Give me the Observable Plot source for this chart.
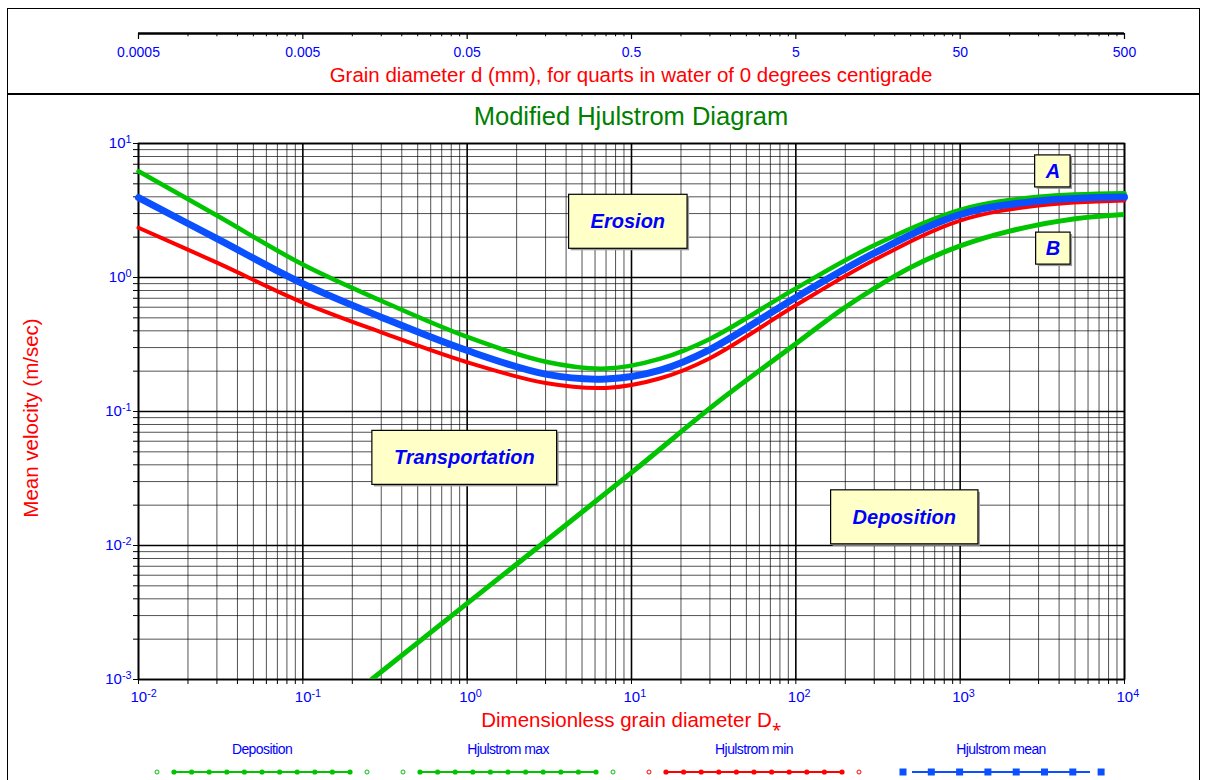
<!DOCTYPE html>
<html><head><meta charset="utf-8">
<script src="https://cdn.jsdelivr.net/npm/d3@7"></script>
<script src="https://cdn.jsdelivr.net/npm/@observablehq/plot@0.6"></script>
<style>
body{margin:0;background:#fff;font-family:"Liberation Sans",Arial,sans-serif;}
#wrap{position:relative;width:1206px;height:780px;overflow:hidden;background:#fff;}
#wrap > *{position:absolute;}
</style></head><body><div id="wrap"></div>
<script>
// ---------- data ----------
const hjD    = [0.01,0.03,0.1,0.3,1,3,7,15,30,100,300,1000,3000,10000];
const hjMax  = [6.2,2.9,1.25,0.67,0.36,0.235,0.209,0.248,0.348,0.83,1.74,3.2,4.0,4.26];
const hjMean = [3.94,1.95,0.90,0.506,0.285,0.19,0.175,0.204,0.29,0.71,1.52,2.95,3.72,3.98];
const hjMin  = [2.35,1.29,0.65,0.39,0.233,0.163,0.150,0.177,0.25,0.62,1.35,2.66,3.45,3.76];
const depD   = [0.262,1,10,33,100,200,500,1000,2000,5000,10000];
const depV   = [0.001,0.0037,0.035,0.116,0.32,0.60,1.19,1.72,2.22,2.74,2.95];

const seriesNames  = ["Deposition","Hjulstrom max","Hjulstrom min","Hjulstrom mean"];
const regionLabels = ["Erosion","Transportation","Deposition","A","B"];
const regionD      = [9.5,0.96,457,3665,3665];
const regionV      = [2.6,0.045,0.0162,6.18,1.64];

const xMajor = [0.01,0.1,1,10,100,1000,10000];
const xMajorLabels = ["10^-2","10^-1","10^0","10^1","10^2","10^3","10^4"];
const yMajor = [0.001,0.01,0.1,1,10];
const yMajorLabels = ["10^-3","10^-2","10^-1","10^0","10^1"];
const dMajor = [0.0005,0.005,0.05,0.5,5,50,500];
const dMajorLabels = ["0.0005","0.005","0.05","0.5","5","50","500"];
const minorK = [2,3,4,5,6,7,8,9];

const title = "Modified Hjulstrom Diagram";
const topTitle = "Grain diameter d (mm), for quarts in water of 0 degrees centigrade";
const xTitle = "Dimensionless grain diameter D";
const yTitle = "Mean velocity (m/sec)";

// ---------- styles ----------
const FONT = '"Liberation Sans", Arial, sans-serif';
const GREEN = "#00c400", RED = "#ff0000", BLUE = "#0a50ff", LBLUE = "#0000ff";
const minorsOf = arr => arr.slice(0,-1).flatMap(v => minorK.map(k => v*k));
const xMinor = minorsOf(xMajor), yMinor = minorsOf(yMajor), dMinor = minorsOf(dMajor);
const lab = (vals, labels) => d => { const i = vals.indexOf(d); return i >= 0 ? labels[i] : ""; };

const tbl = (xs, ys) => xs.map((d,i) => ({d, v: ys[i]}));
const regions = regionLabels.map((label,i) => ({label, d: regionD[i], v: regionV[i]}));
const CURVE = "catmull-rom";

const wrap = document.getElementById("wrap");

const main = Plot.plot({
  width: 1206, height: 780,
  marginTop: 143, marginRight: 82, marginBottom: 101, marginLeft: 138,
  style: {background: "transparent", fontFamily: FONT, overflow: "visible"},
  x: {type: "log", domain: [0.01, 10000]},
  y: {type: "log", domain: [0.001, 10]},
  marks: [
    Plot.ruleX(xMinor, {stroke: "#000", strokeOpacity: 0.68, strokeWidth: 1}),
    Plot.ruleY(yMinor, {stroke: "#000", strokeOpacity: 0.68, strokeWidth: 1}),
    Plot.ruleX(xMajor, {stroke: "#000", strokeWidth: 1.6}),
    Plot.ruleY(yMajor, {stroke: "#000", strokeWidth: 1.6}),
    Plot.frame({stroke: "#000", strokeWidth: 1.6}),
    Plot.axisX([...xMajor, ...xMinor], {tickSize: 5, tickPadding: 7, tickFormat: lab(xMajor, xMajorLabels), label: null, fontSize: 15}),
    Plot.axisY([...yMajor, ...yMinor], {tickSize: 5, tickPadding: 2, tickFormat: lab(yMajor, yMajorLabels), label: null, fontSize: 15}),
    Plot.line(tbl(depD, depV), {x: "d", y: "v", stroke: GREEN, strokeWidth: 5, curve: CURVE, clip: true}),
    Plot.line(tbl(hjD, hjMin), {x: "d", y: "v", stroke: RED, strokeWidth: 4, curve: CURVE}),
    Plot.line(tbl(hjD, hjMax), {x: "d", y: "v", stroke: GREEN, strokeWidth: 4.5, curve: CURVE}),
    Plot.line(tbl(hjD, hjMean), {x: "d", y: "v", stroke: BLUE, strokeWidth: 7, curve: CURVE}),
    Plot.text(regions, {x: "d", y: "v", text: "label", fill: LBLUE, fontSize: 20, fontWeight: "bold", fontStyle: "italic"})
  ]
});
main.style.left = "0px"; main.style.top = "0px";
wrap.appendChild(main);

// top (grain diameter) axis: frame is the 6px tick band under the axis line
const topAx = Plot.plot({
  width: 1206, height: 93,
  marginTop: 33, marginBottom: 54, marginLeft: 138, marginRight: 82,
  style: {background: "transparent", fontFamily: FONT, overflow: "visible"},
  x: {type: "log", domain: [0.0005, 500], axis: null},
  y: {domain: [0, 1], axis: null},
  marks: [
    Plot.ruleX(dMinor, {x: d => d, y1: 1, y2: 0.45, stroke: "#000", strokeWidth: 1}),
    Plot.ruleX(dMajor, {x: d => d, y1: 1, y2: 0, stroke: "#000", strokeWidth: 1.2}),
    Plot.ruleY([1], {stroke: "#000", strokeWidth: 2.5}),
    Plot.text(dMajor, {x: d => d, text: lab(dMajor, dMajorLabels), frameAnchor: "bottom", dy: 17, fill: LBLUE, fontSize: 14})
  ]
});
topAx.style.left = "0px"; topAx.style.top = "0px";
wrap.appendChild(topAx);

// superscript tick labels & colours
const NS = "http://www.w3.org/2000/svg";
function fixLabels(svg, sel, isX) {
  svg.querySelectorAll(sel).forEach(t => {
    t.setAttribute("fill", LBLUE);
    const s = t.textContent;
    if (!s.includes("^")) return;
    const [base, exp] = s.split("^");
    t.textContent = "";
    const a = document.createElementNS(NS, "tspan"); a.textContent = base;
    const b = document.createElementNS(NS, "tspan"); b.textContent = exp;
    b.setAttribute("dy", "-0.45em"); b.setAttribute("font-size", "0.72em");
    if (isX) { t.setAttribute("text-anchor", "start"); a.setAttribute("dx", "-8"); }
    t.append(a, b);
  });
}
fixLabels(main, 'g[aria-label="x-axis tick label"] text', true);
fixLabels(main, 'g[aria-label="y-axis tick label"] text', false);

// region label boxes
main.querySelectorAll('g[aria-label="text"] text').forEach(t => {
  const bb = t.getBBox();
  const one = t.textContent.length === 1;
  const px = one ? 10 : 22, py = one ? 5 : 16;
  const g = t.parentNode;
  const tr = t.getAttribute("transform") || "";
  const mk = (dx, fill, stroke) => {
    const r = document.createElementNS(NS, "rect");
    r.setAttribute("x", bb.x - px + dx); r.setAttribute("y", bb.y - py + dx);
    r.setAttribute("width", bb.width + 2*px); r.setAttribute("height", bb.height + 2*py);
    r.setAttribute("fill", fill); if (stroke) { r.setAttribute("stroke", stroke); r.setAttribute("stroke-width", 1.2); }
    if (tr) r.setAttribute("transform", tr);
    g.insertBefore(r, t);
  };
  mk(2, "#9a9a9a", null);
  mk(0, "#ffffc8", "#000");
});

// titles
function addText(txt, css) {
  const d = document.createElement("div"); d.textContent = txt; d.style.cssText = css; wrap.appendChild(d); return d;
}
addText(title, `left:138px;width:986px;text-align:center;top:102px;font-size:25.5px;color:#008000;white-space:nowrap;`);
addText(topTitle, `left:138px;width:986px;text-align:center;top:63px;font-size:20.5px;color:${RED};white-space:nowrap;`);
const xt = addText(xTitle, `left:138px;width:986px;text-align:center;top:708px;font-size:20.5px;color:${RED};white-space:nowrap;`);
const star = document.createElement("span"); star.textContent = "\u204E"; star.style.fontSize = "17px"; xt.appendChild(star);
addText(yTitle, `left:31px;top:418px;font-size:20.5px;color:${RED};white-space:nowrap;transform:translate(-50%,-50%) rotate(-90deg);`);

// frame boxes
const box = css => { const d = document.createElement("div"); d.style.cssText = css; wrap.appendChild(d); };
box("left:7px;top:8px;width:1191px;height:84px;border:1.5px solid #000;border-bottom:2.5px solid #000;");
box("left:7px;top:93px;width:1191px;height:700px;border-left:1.5px solid #000;border-right:1.5px solid #000;");

// legend
const leg = d3.select(wrap).append("svg").attr("width", 1206).attr("height", 60).style("left", "0px").style("top", "730px");
const legColors = [GREEN, GREEN, RED, BLUE];
seriesNames.forEach((name, i) => {
  const x0 = 174 + i * 246, w = i === 3 ? 178 : 176;
  const cx = x0 + w / 2;
  leg.append("text").attr("x", cx).attr("y", 24).attr("text-anchor", "middle").attr("fill", LBLUE)
    .attr("font-family", FONT).attr("font-size", 14).attr("letter-spacing", "-0.6").text(name);
  leg.append("line").attr("x1", x0).attr("x2", x0 + w).attr("y1", 42).attr("y2", 42).attr("stroke", legColors[i]).attr("stroke-width", 2);
  if (i < 3) {
    for (let j = 0; j <= 10; j++) leg.append("circle").attr("cx", x0 + j * w / 10).attr("cy", 42).attr("r", 2.6).attr("fill", legColors[i]);
    [x0 - 17, x0 + w + 17].forEach(x => leg.append("circle").attr("cx", x).attr("cy", 42).attr("r", 2).attr("fill", "none").attr("stroke", legColors[i]).attr("stroke-width", 1));
  } else {
    for (let j = 0; j <= 7; j++) leg.append("rect").attr("x", x0 - 9 + j * 28.3 - 3.5).attr("y", 38.5).attr("width", 7).attr("height", 7).attr("fill", legColors[i]);
  }
});
</script></body></html>
